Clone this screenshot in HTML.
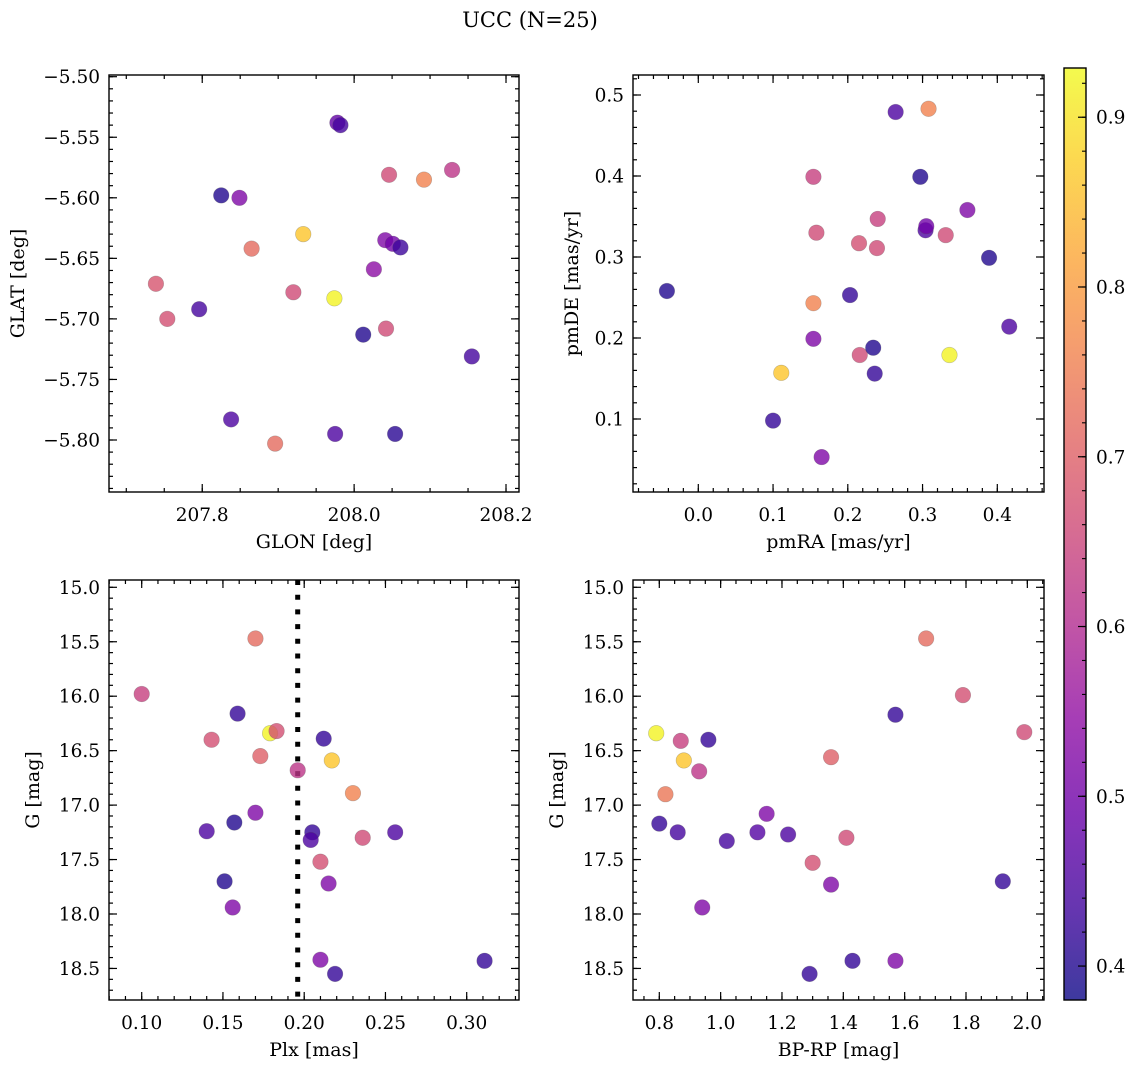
<!DOCTYPE html>
<html><head><meta charset="utf-8"><style>
body{margin:0;background:#fff;}
svg{display:block;font-family:"DejaVu Serif","Liberation Serif",serif;}
</style></head><body>
<svg id="fig" width="1136" height="1068" viewBox="0 0 1136 1068" xmlns="http://www.w3.org/2000/svg">
<defs>
<linearGradient id="cbgrad" x1="0" y1="1" x2="0" y2="0">
<stop offset="0" stop-color="#0d0887"/><stop offset="0.1" stop-color="#41049d"/><stop offset="0.2" stop-color="#6a00a8"/><stop offset="0.3" stop-color="#8f0da4"/><stop offset="0.4" stop-color="#b12a90"/><stop offset="0.5" stop-color="#cc4778"/><stop offset="0.6" stop-color="#e16462"/><stop offset="0.7" stop-color="#f2844b"/><stop offset="0.8" stop-color="#fca636"/><stop offset="0.9" stop-color="#fcce25"/><stop offset="1" stop-color="#f0f921"/>
</linearGradient>
</defs>
<text x="530" y="27" font-size="21" text-anchor="middle">UCC (N=25)</text>
</svg>
<script>
// ---- data ----
const p1_glon=[207.978,207.982,208.046,208.092,208.129,207.825,207.849,207.933,207.865,208.041,208.051,208.061,208.026,207.739,207.920,207.974,207.796,207.754,208.012,208.042,208.155,207.838,207.896,207.975,208.054];
const p1_glat=[-5.538,-5.540,-5.581,-5.585,-5.577,-5.598,-5.600,-5.630,-5.642,-5.635,-5.638,-5.641,-5.659,-5.671,-5.678,-5.683,-5.692,-5.700,-5.713,-5.708,-5.731,-5.783,-5.803,-5.795,-5.795];
const p1_c=[0.48,0.44,0.66,0.76,0.62,0.40,0.52,0.86,0.72,0.52,0.50,0.43,0.54,0.68,0.66,0.92,0.44,0.67,0.40,0.66,0.44,0.45,0.72,0.45,0.41];
const p2_pmra=[-0.042,0.100,0.165,0.111,0.154,0.154,0.154,0.158,0.216,0.215,0.239,0.240,0.203,0.234,0.236,0.264,0.308,0.297,0.304,0.305,0.331,0.360,0.336,0.389,0.416];
const p2_pmde=[0.258,0.098,0.053,0.157,0.243,0.199,0.399,0.330,0.179,0.317,0.311,0.347,0.253,0.188,0.156,0.479,0.483,0.399,0.333,0.338,0.327,0.358,0.179,0.299,0.214];
const p2_c=[0.40,0.42,0.52,0.86,0.76,0.52,0.64,0.66,0.66,0.67,0.66,0.64,0.42,0.40,0.42,0.45,0.76,0.40,0.45,0.50,0.66,0.52,0.92,0.40,0.45];
const p3_plx=[0.170,0.100,0.159,0.179,0.183,0.143,0.212,0.173,0.217,0.196,0.230,0.170,0.157,0.140,0.205,0.204,0.236,0.256,0.210,0.151,0.215,0.156,0.210,0.219,0.311];
const p3_g=[15.47,15.98,16.16,16.34,16.32,16.40,16.39,16.55,16.59,16.68,16.89,17.07,17.16,17.24,17.25,17.32,17.30,17.25,17.52,17.70,17.72,17.94,18.42,18.55,18.43];
const p3_c=[0.72,0.64,0.42,0.92,0.67,0.67,0.42,0.70,0.86,0.62,0.76,0.52,0.40,0.45,0.42,0.45,0.66,0.45,0.67,0.40,0.52,0.52,0.52,0.42,0.42];
const p4_bprp=[1.67,1.79,1.99,0.79,0.87,0.96,1.57,0.88,0.93,1.36,0.82,0.80,0.86,1.02,1.12,1.15,1.22,1.41,1.30,1.36,1.92,0.94,1.29,1.43,1.57];
const p4_g=[15.47,15.99,16.33,16.34,16.41,16.40,16.17,16.59,16.69,16.56,16.90,17.17,17.25,17.33,17.25,17.08,17.27,17.30,17.53,17.73,17.70,17.94,18.55,18.43,18.43];
const p4_c=[0.72,0.67,0.66,0.92,0.64,0.42,0.42,0.86,0.62,0.70,0.74,0.42,0.44,0.44,0.46,0.52,0.45,0.66,0.67,0.52,0.42,0.52,0.42,0.42,0.52];
const plxLine=[0.196];
const cbTicks=[0.4,0.5,0.6,0.7,0.8,0.9];

const NS="http://www.w3.org/2000/svg";
const svg=document.getElementById('fig');
const TF=18.5, LF=19;
function mk(tag,attrs,parent){const e=document.createElementNS(NS,tag);for(const k in attrs)e.setAttribute(k,attrs[k]);(parent||svg).appendChild(e);return e;}
const stops=["#0d0887","#41049d","#6a00a8","#8f0da4","#b12a90","#cc4778","#e16462","#f2844b","#fca636","#fcce25","#f0f921"];
function hex(h){return [1,3,5].map(i=>parseInt(h.substr(i,2),16));}
const VMIN=0.38,VMAX=0.929;
function cmap(v){let t=(v-VMIN)/(VMAX-VMIN);t=Math.max(0,Math.min(1,t));const s=t*10,i=Math.min(9,Math.floor(s)),f=s-i;const a=hex(stops[i]),b=hex(stops[i+1]);return 'rgb('+a.map((x,k)=>Math.round(x+(b[k]-x)*f)).join(',')+')';}
function lin(d0,d1,r0,r1){return v=>r0+(v-d0)*(r1-r0)/(d1-d0);}
function fmt(v,dec){let s=Math.abs(v).toFixed(dec);return (v<-1e-9?'\u2212':'')+s;}

function panel(cfg){
  const g=mk('g',{});
  
  
  const {x0,x1,y0,y1}=cfg.box;
  const sx=lin(cfg.xd[0],cfg.xd[1],x0,x1), sy=lin(cfg.yd[0],cfg.yd[1],y1,y0);
  function ticks(axis,step,len,minor){
    const d=axis==='x'?cfg.xd:cfg.yd;
    const lo=Math.min(d[0],d[1]),hi=Math.max(d[0],d[1]);
    let n0=Math.ceil(lo/step-1e-6);
    for(let n=n0;n*step<=hi+1e-9;n++){
      const v=n*step;
      if(axis==='x'){const X=sx(v);
        const t1=mk('line',{x1:X,x2:X,y1:y1,y2:y1-len,stroke:'#000','stroke-width':1.2},g);
        const t2=mk('line',{x1:X,x2:X,y1:y0,y2:y0+len,stroke:'#000','stroke-width':1.2},g);
        
        
        if(!minor){const t=mk('text',{x:X,y:y1+29,'font-size':TF,'text-anchor':'middle'},g);t.textContent=fmt(v,cfg.xdec);
          }
      }else{const Y=sy(v);
        const t1=mk('line',{x1:x0,x2:x0+len,y1:Y,y2:Y,stroke:'#000','stroke-width':1.2},g);
        const t2=mk('line',{x1:x1,x2:x1-len,y1:Y,y2:Y,stroke:'#000','stroke-width':1.2},g);
        
        
        if(!minor){const t=mk('text',{x:x0-9,y:Y+6.5,'font-size':TF,'text-anchor':'end'},g);t.textContent=fmt(v,cfg.ydec);
          }
      }
    }
  }
  ticks('x',cfg.xmin,4,true);ticks('x',cfg.xmaj,8,false);
  ticks('y',cfg.ymin,4,true);ticks('y',cfg.ymaj,8,false);
  if(cfg.vline){cfg.vline.forEach(v=>{const l=mk('line',{x1:sx(v),x2:sx(v),y1:y0,y2:y1,stroke:'#000','stroke-width':5,'stroke-dasharray':'5 9.7'},g);
    });}
  for(let i=0;i<cfg.xs.length;i++){
    const c=mk('circle',{cx:sx(cfg.xs[i]),cy:sy(cfg.ys[i]),r:7.8,fill:cmap(cfg.cs[i]),'fill-opacity':0.8,stroke:'#555','stroke-opacity':0.35,'stroke-width':0.6},g);
    
    
  }
  const fr=mk('rect',{x:x0,y:y0,width:x1-x0,height:y1-y0,fill:'none',stroke:'#000','stroke-width':1.4},g);
  
  const xl=mk('text',{x:(x0+x1)/2,y:y1+56,'font-size':LF,'text-anchor':'middle'},g);xl.textContent=cfg.xlabel;
  
  const yl=mk('text',{x:cfg.ylx,y:(y0+y1)/2,'font-size':LF,'text-anchor':'middle',transform:`rotate(-90 ${cfg.ylx} ${(y0+y1)/2})`},g);yl.textContent=cfg.ylabel;
  
}
panel({name:'glon-glat-panel',box:{x0:109,x1:519,y0:75,y1:492},xd:[207.8-93.3/760,208.2+13/760],yd:[-5.80-(492-440)/1211,-5.50+1.7/1211],
  xmaj:0.2,xmin:0.05,ymaj:0.05,ymin:0.01,xdec:1,ydec:2,xs:p1_glon,ys:p1_glat,cs:p1_c,xlabel:'GLON [deg]',ylabel:'GLAT [deg]',ylx:24});
panel({name:'pmra-pmde-panel',box:{x0:633,x1:1044,y0:75,y1:492},xd:[-65.3/747.5,345.7/747.5],yd:[0.5-(492-95)/810,0.5+20/810],
  xmaj:0.1,xmin:0.02,ymaj:0.1,ymin:0.02,xdec:1,ydec:1,xs:p2_pmra,ys:p2_pmde,cs:p2_c,xlabel:'pmRA [mas/yr]',ylabel:'pmDE [mas/yr]',ylx:578});
panel({name:'plx-g-panel',box:{x0:109,x1:519,y0:580,y1:1000},xd:[0.10-32.7/1625,0.10+377.3/1625],yd:[15+(1000-587.3)/108.9,15-7.3/108.9],
  xmaj:0.05,xmin:0.01,ymaj:0.5,ymin:0.1,xdec:2,ydec:1,xs:p3_plx,ys:p3_g,cs:p3_c,xlabel:'Plx [mas]',ylabel:'G [mag]',ylx:39,vline:plxLine});
panel({name:'bprp-g-panel',box:{x0:633,x1:1044,y0:580,y1:1000},xd:[0.8-26.3/306.7,0.8+384.7/306.7],yd:[15+(1000-587.3)/108.9,15-7.3/108.9],
  xmaj:0.2,xmin:0.05,ymaj:0.5,ymin:0.1,xdec:1,ydec:1,xs:p4_bprp,ys:p4_g,cs:p4_c,xlabel:'BP-RP [mag]',ylabel:'G [mag]',ylx:563});
(function(){
  const g=mk('g',{});
  
  
  const y0=68,y1=1000,x0=1064,x1=1086;
  const r=mk('rect',{x:x0,y:y0,width:x1-x0,height:y1-y0,fill:'url(#cbgrad)','fill-opacity':0.8},g);
  
  const sy=lin(VMIN,VMAX,y1,y0);
  for(let n=Math.ceil(VMIN/0.02);n*0.02<=VMAX;n++){const Y=sy(n*0.02);
    const t=mk('line',{x1:x1,x2:x1-4,y1:Y,y2:Y,stroke:'#000','stroke-width':1.1},g);
    }
  cbTicks.forEach(v=>{const Y=sy(v);
    const t=mk('line',{x1:x1,x2:x1-8,y1:Y,y2:Y,stroke:'#000','stroke-width':1.2},g);
    
    const l=mk('text',{x:x1+10,y:Y+6.5,'font-size':TF},g);l.textContent=v.toFixed(1);
    });
  const f=mk('rect',{x:x0,y:y0,width:x1-x0,height:y1-y0,fill:'none',stroke:'#000','stroke-width':1.4},g);
  
})();
</script>
</body></html>
